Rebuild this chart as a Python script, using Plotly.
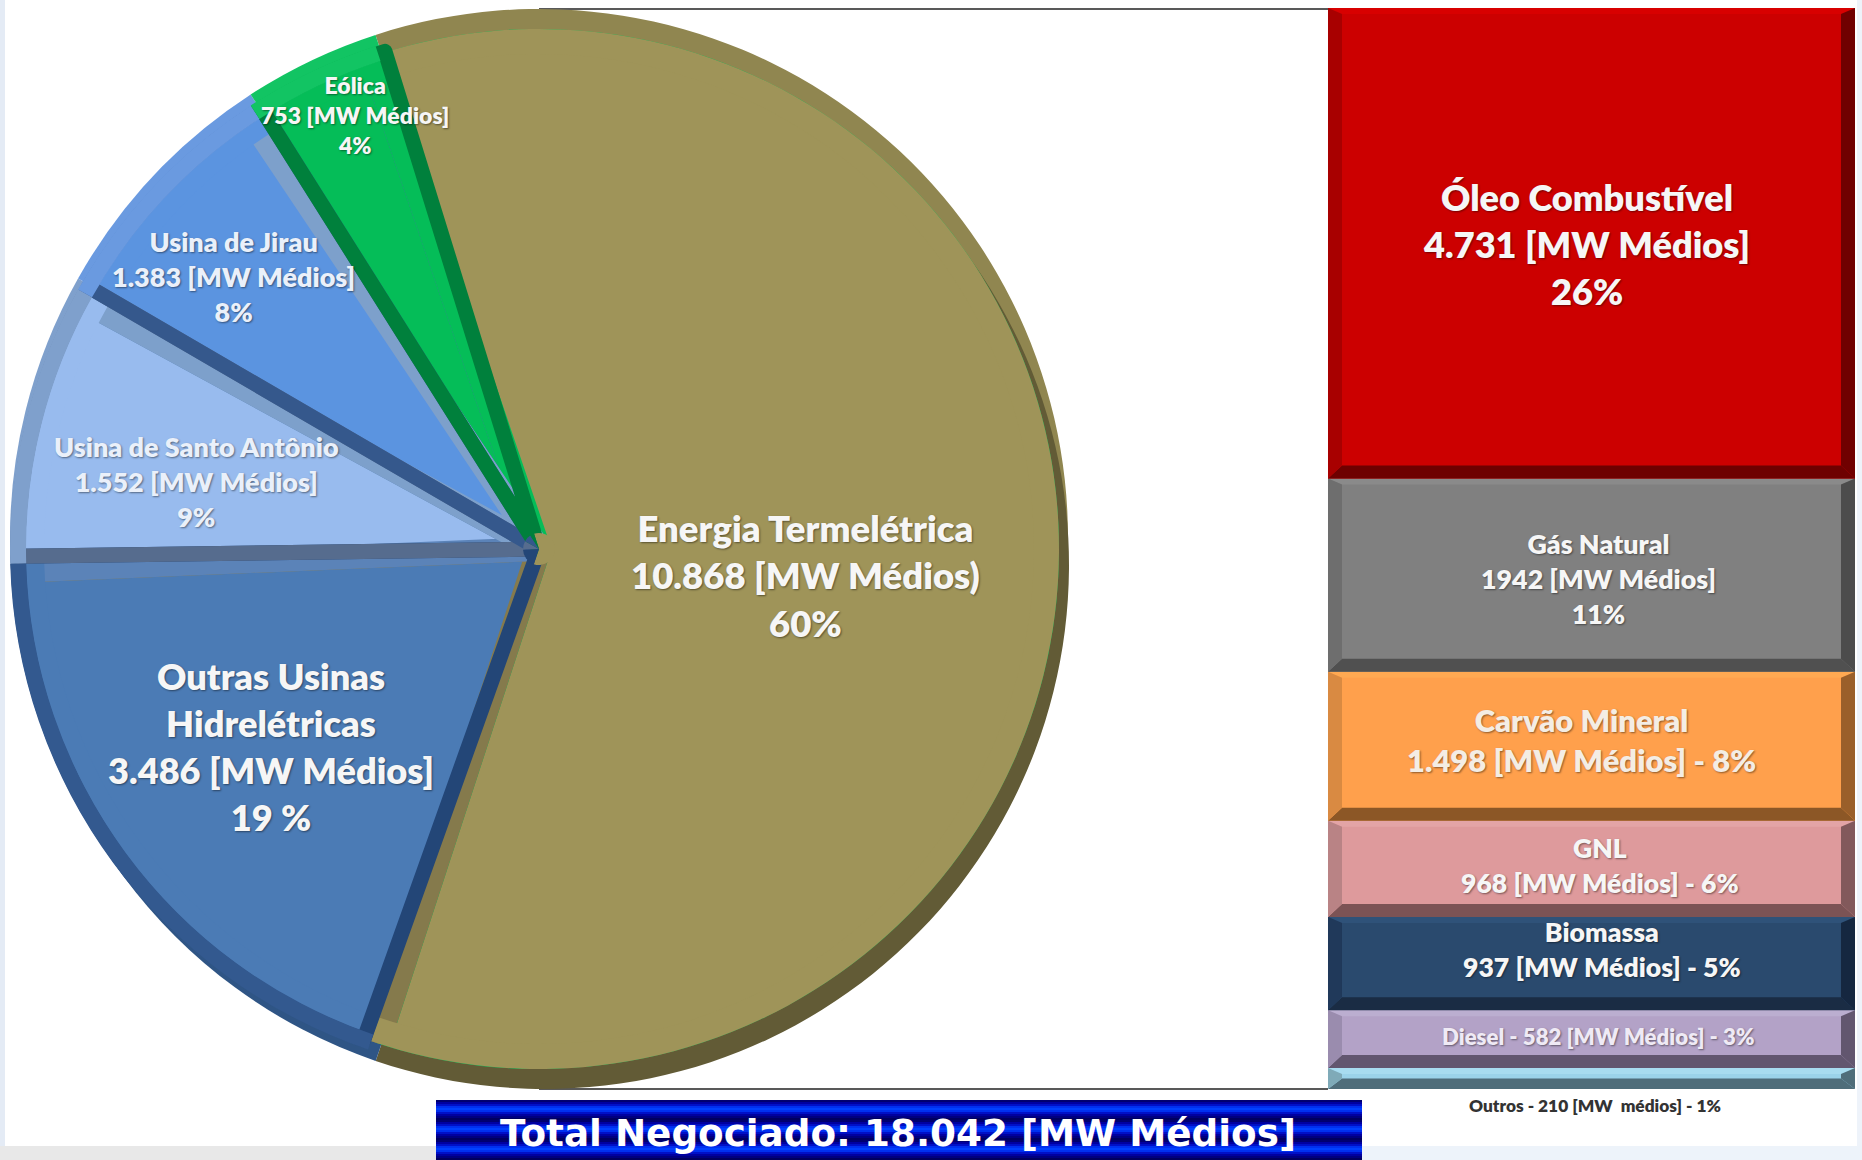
import plotly.graph_objects as go

W, H = 1862, 1160

# --- data ---
pie_labels = ["Energia Termelétrica", "Outras Usinas Hidrelétricas", "Usina de Santo Antônio", "Usina de Jirau", "Eólica"]
pie_values = [10868, 3486, 1552, 1383, 753]
pie_face = ["#9F9459", "#4B7BB5", "#98BBEE", "#5B94E0", "#05BD58"]
pie_edge = ["rgba(0,0,0,0)", "#234677", "#566C8E", "#35588C", "#00803C"]
pie_band = ["#05BD58", "#857A4C", "#5B83B8", "#7DA0CB", "#4A6FA5"]
pie_arc = ["rgba(0,0,0,0)", "#33598F", "#7FA0CC", "#6A9AE0", "#12C463"]
pie_light = ["#908650", "#33598F", "#7FA0CC", "#6A9AE0", "#12C463"]
pie_dark = ["#625B36", "#2F5585", "#7FA0CC", "#6A9AE0", "#12C463"]
pie_core = ["#9F9459", "#234677", "#566C8E", "#35588C", "#00803C"]

bar_labels = ["Outros", "Diesel", "Biomassa", "GNL", "Carvão Mineral", "Gás Natural", "Óleo Combustível"]
bar_values = [210, 582, 937, 968, 1498, 1942, 4731]
bar_face = ["#9BD3EA", "#B3A2C7", "#2A4A6E", "#DE9A9C", "#FFA04C", "#808080", "#CC0000"]
bar_top = ["#A8DCF0", "#BBAED0", "#2F5279", "#E3A4A6", "#FFA952", "#8A8A8A", "#D80000"]
bar_left = ["#7FAAB8", "#9A8CAE", "#20395A", "#B98385", "#D98A42", "#6E6E6E", "#A80000"]
bar_right = ["#4F6D7A", "#62566F", "#152740", "#82595B", "#9A5F2A", "#4C4C4C", "#700000"]
bar_bottom = ["#4F6D7A", "#62566F", "#1A2C44", "#7C5355", "#8C5726", "#505050", "#6E0000"]

banner_cycle = ["#000070", "#0000A0", "#0010C8", "#0030F0", "#0040FF", "#0030F0", "#0010C8", "#0000A0", "#000080", "#000060"]
banner_stripes = banner_cycle * 3

total_text = "Total Negociado: 18.042 [MW Médios]"
CLEAR = "rgba(0,0,0,0)"


def px(x):
    return x / W


def py(y):
    return 1 - y / H


def dom(cx, cy, r):
    return dict(x=[px(cx - r), px(cx + r)], y=[py(cy + r), py(cy - r)])


CX, CY = 539, 549
ROT = -18
total_pie = sum(pie_values)
order = [4, 0, 1, 2, 3]  # Eólica first, so each later slice's band lies on its shared edge
SKEW = 0.8  # degrees that separate the light and dark edge bands


def pie(colors, cx, cy, r, hole=0, line=None, lw=0, idx=None, rot=ROT):
    idx = idx or list(range(len(pie_values)))
    return go.Pie(
        labels=[pie_labels[i] for i in idx], values=[pie_values[i] for i in idx],
        sort=False, direction="clockwise", rotation=rot,
        domain=dom(cx, cy, r), hole=hole, textinfo="none", hoverinfo="label+value", showlegend=False,
        marker=dict(colors=[colors[i] for i in idx],
                    line=dict(color=[(line or colors)[i] for i in idx], width=lw)),
    )


fig = go.Figure()
# rim shading below the disc
fig.add_trace(pie(pie_light, CX, CY - 11, 529))
fig.add_trace(pie(pie_dark, CX + 6, CY + 16, 524))
# face with the wide, lighter edge bands
fig.add_trace(pie(pie_face, CX, CY, 508, line=pie_band, lw=24, idx=order,
                  rot=ROT - pie_values[4] / total_pie * 360 - SKEW))
fig.add_trace(pie(pie_face, CX, CY, 520, hole=495 / 520))
# narrow dark edge bands
fig.add_trace(pie([CLEAR] * 5, CX, CY, 521, line=pie_edge, lw=15, rot=ROT + SKEW))
# rim of the four smaller slices
fig.add_trace(pie(pie_arc, CX, CY, 529, hole=513 / 529))
# where the edges meet
fig.add_trace(pie(pie_core, CX, CY, 16))

# stacked bar
for lab, val, col in zip(bar_labels, bar_values, bar_face):
    fig.add_trace(go.Bar(x=[0], y=[val], name=lab, marker=dict(color=col, line=dict(width=0)),
                         width=1, showlegend=False, xaxis="x", yaxis="y", hoverinfo="name+y"))

BX0, BX1, BY0, BY1 = 1328, 1855, 1089, 8
total = sum(bar_values)
unit = (BY0 - BY1) / total

shapes = []
# page background
shapes.append(dict(type="rect", xref="paper", yref="paper", x0=0, x1=px(5), y0=0, y1=1,
                   fillcolor="#E4EBF5", line_width=0, layer="below"))
shapes.append(dict(type="rect", xref="paper", yref="paper", x0=px(1857), x1=1, y0=0, y1=1,
                   fillcolor="#EEF3FA", line_width=0, layer="below"))
shapes.append(dict(type="rect", xref="paper", yref="paper", x0=0, x1=px(1362), y0=0, y1=py(1146),
                   fillcolor="#E8E8E8", line_width=0, layer="below"))
shapes.append(dict(type="rect", xref="paper", yref="paper", x0=px(1362), x1=1, y0=0, y1=py(1146),
                   fillcolor="#EDF3FA", line_width=0, layer="below"))
# frame lines
for yy in (9, 1089):
    shapes.append(dict(type="line", xref="paper", yref="paper", x0=px(539), x1=px(1328), y0=py(yy), y1=py(yy),
                       line=dict(color="#222222", width=1.5), layer="below"))

# bevels on each bar segment, from the cumulative values
cum = 0
for i, val in enumerate(bar_values):
    y0 = BY0 - cum * unit
    y1 = BY0 - (cum + val) * unit
    cum += val
    bh = min(13, (y0 - y1) / 2)
    bt = min(6, (y0 - y1) / 2)
    s = 14
    xa, xb, xc, xd = px(BX0), px(BX0 + s), px(BX1 - s), px(BX1)
    ya, yb, yc, yd = py(y0), py(y0 - bh), py(y1 + bt), py(y1)
    polys = [
        (bar_top[i], [(xa, yd), (xd, yd), (xc, yc), (xb, yc)]),
        (bar_bottom[i], [(xa, ya), (xd, ya), (xc, yb), (xb, yb)]),
        (bar_left[i], [(xa, ya), (xa, yd), (xb, yc), (xb, yb)]),
        (bar_right[i], [(xd, ya), (xd, yd), (xc, yc), (xc, yb)]),
    ]
    for col, pts in polys:
        path = "M " + " L ".join(f"{a:.5f},{b:.5f}" for a, b in pts) + " Z"
        shapes.append(dict(type="path", xref="paper", yref="paper", path=path, fillcolor=col, line_width=0))

# banner
bx0, bx1, by0, by1 = 436, 1362, 1100, 1160
n = len(banner_stripes)
for i, col in enumerate(banner_stripes):
    shapes.append(dict(type="rect", xref="paper", yref="paper", x0=px(bx0), x1=px(bx1),
                       y0=py(by0 + (by1 - by0) * (i + 1) / n), y1=py(by0 + (by1 - by0) * i / n),
                       fillcolor=col, line_width=0))

SH = "1px 1px 2px rgba(0,0,0,0.45)"


def note(text, x, y, size, color="#F6F6F6", family="Lato", shadow=SH):
    return dict(text=text, x=px(x), y=py(y), xref="paper", yref="paper", showarrow=False,
                xanchor="center", yanchor="middle", align="center",
                font=dict(family=family, size=size, color=color, weight=800, shadow=shadow))


MW = "[MW Médios]"
annotations = [
    note(f"Energia Termelétrica<br>10.868 {MW.replace(']', ')')}<br>60%", 805, 575, 36.5),
    note(f"Outras Usinas<br>Hidrelétricas<br>3.486 {MW}<br>19 %", 271, 746, 36.2),
    note(f"Usina de Santo Antônio<br>1.552 {MW}<br>9%", 196, 481, 27, color="#EAF0FA"),
    note(f"Usina de Jirau<br>1.383 {MW}<br>8%", 234, 276, 27, color="#EAF0FA"),
    note(f"Eólica<br>753 {MW}<br>4%", 355, 115, 23),
    note(f"Óleo Combustível<br>4.731 {MW}<br>26%", 1586, 244, 36.2),
    note(f"Gás Natural<br>1942 {MW}<br>11%", 1598, 579, 26.8),
    note(f"Carvão Mineral<br>1.498 {MW} - 8%", 1581, 740, 31, color="#F4EDE4"),
    note(f"GNL<br>968 {MW} - 6%", 1600, 865, 26.6),
    note(f"Biomassa<br>937 {MW} - 5%", 1602, 949, 26.6),
    note(f"Diesel - 582 {MW} - 3%", 1598, 1036, 22.2, color="#EFEAF5"),
    note("Outros - 210 [MW  médios] - 1%", 1595, 1105.5, 17.3, color="#333333", shadow="none"),
    note(total_text, 898, 1133, 37.3, color="#FFFFFF", family="DejaVu Sans", shadow="none"),
]

fig.update_layout(
    width=W, height=H, margin=dict(l=0, r=0, t=0, b=0, pad=0),
    paper_bgcolor="#FFFFFF", plot_bgcolor="rgba(0,0,0,0)",
    barmode="stack", bargap=0,
    xaxis=dict(domain=[px(BX0), px(BX1)], range=[-0.5, 0.5], visible=False, fixedrange=True),
    yaxis=dict(domain=[py(BY0), py(BY1)], range=[0, total], visible=False, fixedrange=True),
    shapes=shapes, annotations=annotations,
)

fig.write_html("out.html", config=dict(displayModeBar=False),
               post_script="document.body.style.margin='0';document.body.style.overflow='hidden';")
